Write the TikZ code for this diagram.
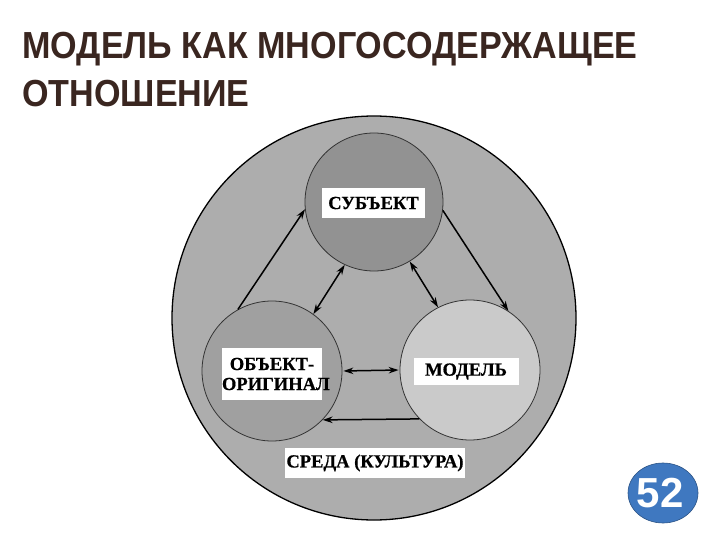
\documentclass[tikz,border=0pt]{standalone}
\usepackage{fontspec}
\setmainfont{Liberation Serif}
\newfontfamily\titlefont[FakeStretch=0.905]{Liberation Sans}
\newfontfamily\numfont{Liberation Sans}
\usetikzlibrary{arrows.meta,shapes.geometric}
\definecolor{titlecol}{HTML}{3A2620}
\definecolor{envgray}{HTML}{ADADAD}
\definecolor{subjgray}{HTML}{929292}
\definecolor{objgray}{HTML}{A0A0A0}
\definecolor{modgray}{HTML}{CACACA}
\definecolor{numblue}{HTML}{3F78C0}
\tikzset{
  ring/.style={circle, draw=black!80, line width=0.8pt, inner sep=0pt},
  lab/.style={fill=white, inner sep=0pt, font=\bfseries\addfontfeature{FakeBold=0.6}\fontsize{18.5}{20}\selectfont, align=center},
  conn/.style={line width=1.5pt, -{Stealth[length=10pt,width=6.5pt]}},
  dconn/.style={line width=1.5pt, {Stealth[length=10pt,width=6.5pt]}-{Stealth[length=10pt,width=6.5pt]}},
  ttl/.style={anchor=base west, inner sep=0pt, text=titlecol, font=\titlefont\bfseries\fontsize{37.7}{40}\selectfont}
}
\begin{document}
\begin{tikzpicture}[x=1pt,y=-1pt]
\useasboundingbox (0,0) rectangle (720,540);
\fill[white] (0,0) rectangle (720,540);
% title
\node[ttl] (t1) at (22,59) {МОДЕЛЬ КАК МНОГОСОДЕРЖАЩЕЕ};
\node[ttl] (t2) at (22,107) {ОТНОШЕНИЕ};
% environment
\node[circle, draw=black, line width=1.3pt, inner sep=0pt, fill=envgray, minimum size=404pt] (env) at (374,318) {};
% inner circles
\node[ring, fill=subjgray, minimum size=138pt] (subj) at (374,202) {};
\node[ring, fill=objgray, minimum size=140pt] (obj) at (272,371) {};
\node[ring, fill=modgray, minimum size=140pt] (mod) at (470,370) {};
% labels
\node[lab, minimum width=103pt, minimum height=30pt] (ls) at (373.5,203) {СУБЪЕКТ};
\node[lab, minimum width=105pt, minimum height=27pt] (lm) at (466,371.5) {МОДЕЛЬ};
\node[lab, minimum width=100pt, minimum height=52pt, text width=100pt] (lo) at (272,374) {\baselineskip=20pt ОБЪЕКТ-\\ОРИГИНАЛ};
\node[lab, minimum width=180pt, minimum height=30pt] (le) at (375,463) {СРЕДА (КУЛЬТУРА)};
% connectors
\draw[conn] (obj.119) -- (subj.186);
\draw[conn] (subj.-7) -- (mod.57);
\draw[dconn] (subj.245) -- (obj.54);
\draw[dconn] (subj.-59) -- (mod.117);
\draw[dconn, shorten <=1pt, shorten >=1pt] (obj.0) -- (mod.180);
\draw[conn] (mod.224) -- (obj.-44);
% page number
\node[ellipse, fill=numblue, draw=numblue!70!black, line width=0.6pt, minimum width=70pt, minimum height=60pt, inner sep=0pt] (num) at (663,493) {};
\node[text=white, font=\numfont\bfseries\fontsize{42}{42}\selectfont, inner sep=0pt] (numtxt) at (660,493) {52};
\end{tikzpicture}
\end{document}
